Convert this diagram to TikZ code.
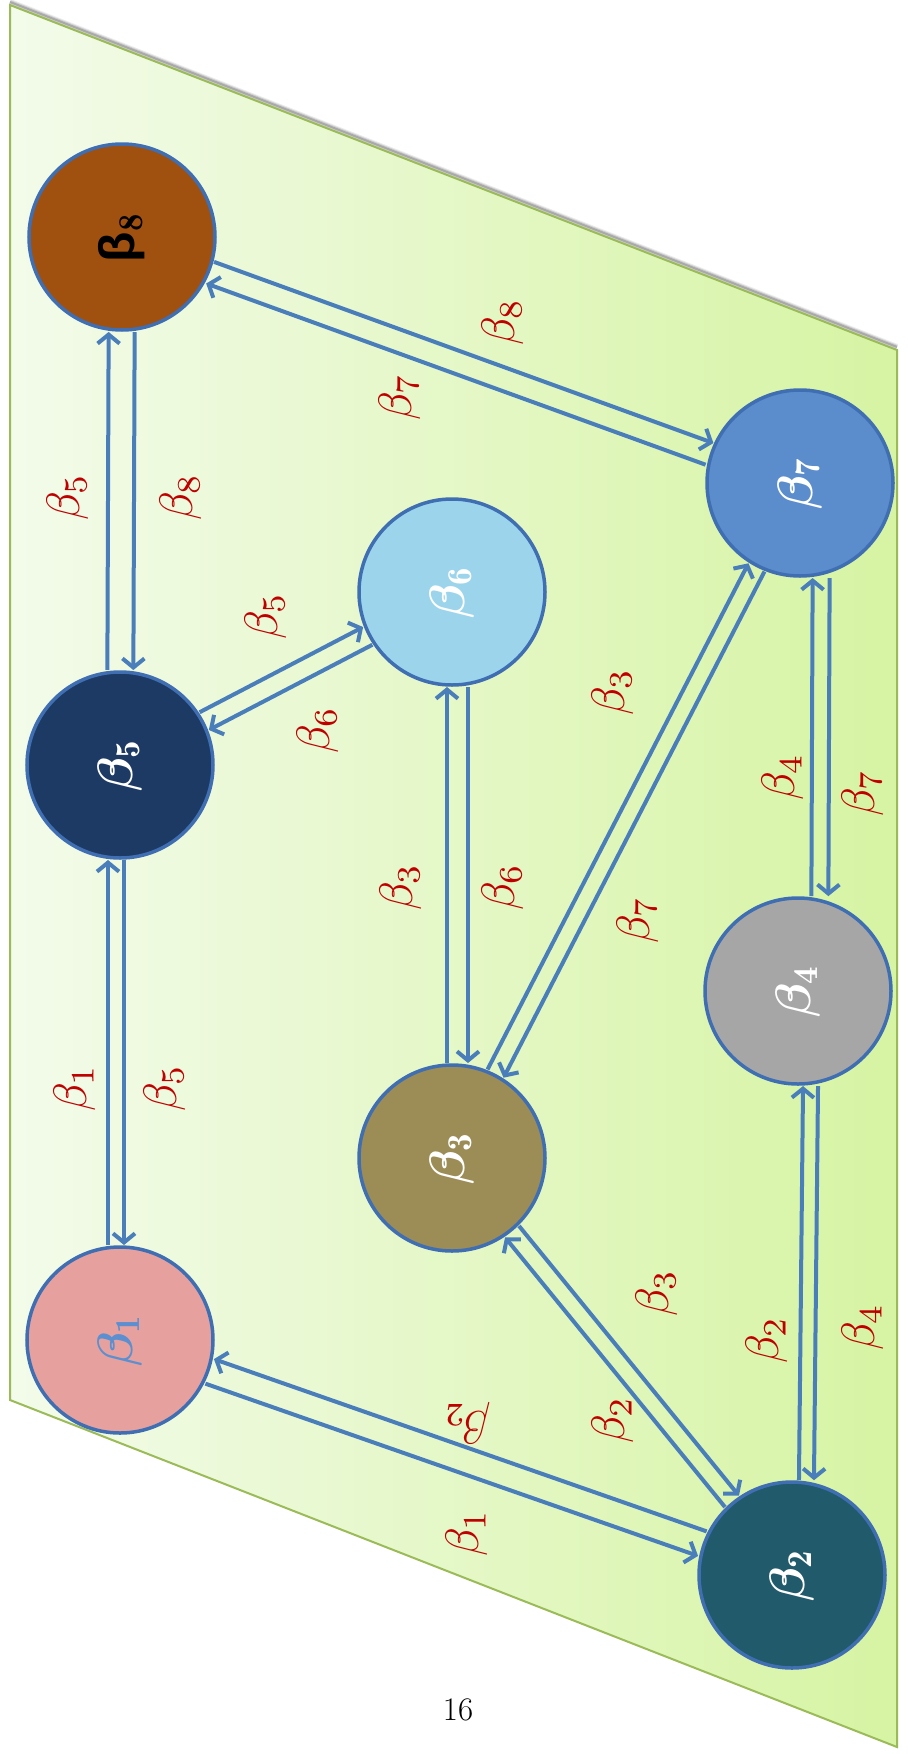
\documentclass[tikz,border=0pt]{standalone}
\usepackage{fontspec}
\usepackage{bm}
\usetikzlibrary{calc,arrows.meta}
\newfontfamily\greeksans{Liberation Sans}
\definecolor{edgeblue}{HTML}{4A7EBB}
\definecolor{ringblue}{HTML}{3F6FB2}
\definecolor{lblred}{HTML}{C00000}
\definecolor{bgl}{HTML}{F3FBEA}
\definecolor{bgr}{HTML}{D6F4A3}
\definecolor{bgline}{HTML}{9BBB59}
\definecolor{cviii}{HTML}{A0500F}
\definecolor{cv}{HTML}{1C3A63}
\definecolor{ci}{HTML}{E6A19F}
\definecolor{cvi}{HTML}{9CD5EB}
\definecolor{ciii}{HTML}{9C8C56}
\definecolor{cvii}{HTML}{5B8CCB}
\definecolor{civ}{HTML}{A6A6A6}
\definecolor{cii}{HTML}{205A6B}
\definecolor{bonetext}{HTML}{5B8FD0}
\newcommand\arr[5]{\draw[conn] ($(#1)!#3!#4:(#2)$) -- ($(#2)!#3!#5:(#1)$);}
\newcommand\nb[1]{\scalebox{5}{$\bm{\beta}_{\mathbf{#1}}$}}
\newcommand\eb[1]{\scalebox{4.7}{$\beta_{#1}$}}
\begin{document}
\begin{tikzpicture}[x=1bp,y=-1bp,
  circ/.style={circle,draw=ringblue,line width=3.5bp,minimum size=186bp,inner sep=0pt,
    font=\fontsize{10}{12}\selectfont,text=white,rotate=90},
  lbl/.style={text=lblred,font=\fontsize{10}{12}\selectfont,rotate=90,inner sep=0pt},
  conn/.style={draw=edgeblue,line width=4bp,-{Straight Barb[length=9bp,width=22bp]},
    shorten <=95bp,shorten >=95bp}]
\useasboundingbox (0,0) rectangle (907,1754);
% soft shadow along the top edge
\foreach \s/\o in {6/0.08,4/0.12,2/0.18}{
  \draw[black,opacity=\o,line width=\s bp] (10,2) -- (897,347);}
\shade[left color=bgl,right color=bgr] (10,5) -- (897,350) -- (897,1747) -- (10,1400) -- cycle;
\draw[bgline,line width=2bp] (10,5) -- (897,350) -- (897,1747) -- (10,1400) -- cycle;

\node[circ,fill=cviii,text=black] (b8) at (122,237) {\scalebox{5}{{\greeksans\bfseries β}$_{\mathbf 8}$}};
\node[circ,fill=cv] (b5) at (120,765) {\nb5};
\node[circ,fill=ci,text=bonetext] (b1) at (120,1340) {\nb1};
\node[circ,fill=cvi] (b6) at (452,592) {\nb6};
\node[circ,fill=ciii] (b3) at (452,1158) {\nb3};
\node[circ,fill=cvii] (b7) at (800,483) {\nb7};
\node[circ,fill=civ] (b4) at (798,991) {\nb4};
\node[circ,fill=cii] (b2) at (792,1575) {\nb2};

% b8 - b5
\arr{b8}{b5}{13bp}{90}{-90}
\arr{b5}{b8}{13bp}{90}{-90}
% b5 - b1
\arr{b5}{b1}{4bp}{90}{-90}
\arr{b1}{b5}{12bp}{90}{-90}
% b5 - b6
\arr{b5}{b6}{10bp}{90}{-90}
\arr{b6}{b5}{10bp}{90}{-90}
% b6 - b3
\arr{b6}{b3}{16bp}{90}{-90}
\arr{b3}{b6}{5bp}{90}{-90}
% b3 - b7
\arr{b3}{b7}{9bp}{90}{-90}
\arr{b7}{b3}{9bp}{90}{-90}
% b7 - b4
\arr{b7}{b4}{30bp}{90}{-90}
\arr{b4}{b7}{13bp}{-90}{90}
% b4 - b2
\arr{b4}{b2}{21bp}{90}{-90}
\arr{b2}{b4}{6bp}{-90}{90}
% b3 - b2
\arr{b3}{b2}{9bp}{90}{-90}
\arr{b2}{b3}{9bp}{90}{-90}
% b1 - b2
\arr{b1}{b2}{13bp}{-90}{90}
\arr{b2}{b1}{13bp}{-90}{90}
% b8 - b7
\arr{b8}{b7}{8bp}{90}{-90}
\arr{b7}{b8}{15bp}{90}{-90}

% edge labels
\node[lbl] (l85a) at (68,497) {\eb5};
\node[lbl] (l85b) at (181,497) {\eb8};
\node[lbl] (l51a) at (75,1088) {\eb1};
\node[lbl] (l51b) at (165,1088) {\eb5};
\node[lbl] (l56a) at (266,616) {\eb5};
\node[lbl] (l56b) at (318,730) {\eb6};
\node[lbl] (l63a) at (401,887) {\eb3};
\node[lbl] (l63b) at (503,887) {\eb6};
\node[lbl] (l37a) at (613,692) {\eb3};
\node[lbl] (l37b) at (638,920) {\eb7};
\node[lbl] (l74a) at (783,777) {\eb4};
\node[lbl] (l74b) at (863,793) {\eb7};
\node[lbl] (l42a) at (767,1340) {\eb2};
\node[lbl] (l42b) at (863,1327) {\eb4};
\node[lbl] (l32a) at (657,1293) {\eb3};
\node[lbl] (l32b) at (613,1420) {\eb2};
\node[lbl,rotate=90] (l12a) at (467,1423) {\eb2};
\node[lbl] (l12b) at (467,1533) {\eb1};
\node[lbl] (l87a) at (503,322) {\eb8};
\node[lbl] (l87b) at (400,397) {\eb7};

\node[font=\fontsize{33}{36}\selectfont] (pg) at (458,1710) {16};
\end{tikzpicture}
\end{document}
